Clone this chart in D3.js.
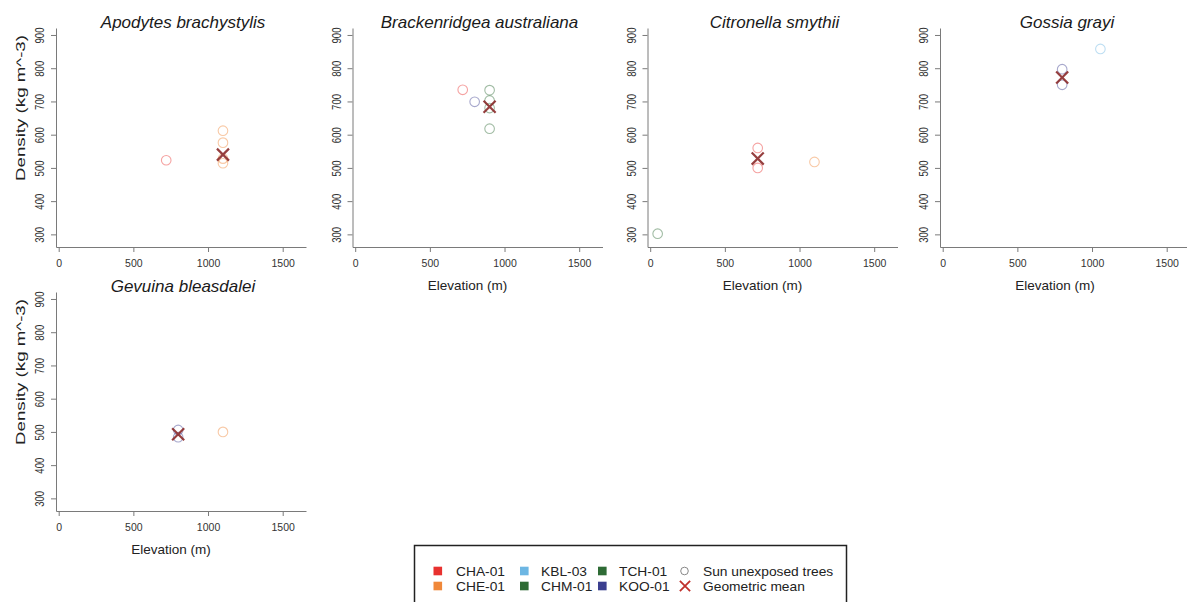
<!DOCTYPE html>
<html>
<head>
<meta charset="utf-8">
<script src="https://cdn.jsdelivr.net/npm/d3@7"></script>
<style>
  html, body { margin: 0; padding: 0; background: #fff; }
  svg { display: block; }
</style>
</head>
<body>
<svg id="chart" width="1187" height="602"></svg>
<script>
// ---------------- DATA ----------------
const speciesNames = ["Apodytes brachystylis", "Brackenridgea australiana", "Citronella smythii", "Gossia grayi", "Gevuina bleasdalei"];
const sites = ["CHA-01", "CHE-01", "KBL-03", "CHM-01", "TCH-01", "KOO-01"];
const siteColors = ["#e8312f", "#f0883a", "#6db6e3", "#2e6b35", "#2e6b35", "#3b3f8f"];

// [site, elevation (m), density (kg m^-3)]
const apodytesPoints = [["CHA-01", 720, 523], ["CHE-01", 1100, 612], ["CHE-01", 1100, 576], ["CHE-01", 1100, 528], ["CHE-01", 1100, 514]];
const brackenridgeaPoints = [["CHA-01", 720, 735], ["KOO-01", 800, 699], ["CHM-01", 900, 734], ["CHM-01", 900, 703], ["CHM-01", 900, 680], ["CHM-01", 900, 618]];
const citronellaPoints = [["TCH-01", 50, 302], ["CHA-01", 720, 560], ["CHA-01", 720, 500], ["CHE-01", 1100, 518]];
const gossiaPoints = [["KOO-01", 800, 797], ["KOO-01", 800, 750], ["KBL-03", 1056, 858]];
const gevuinaPoints = [["KOO-01", 800, 506], ["KOO-01", 800, 484], ["CHE-01", 1100, 500]];
const speciesPoints = [apodytesPoints, brackenridgeaPoints, citronellaPoints, gossiaPoints, gevuinaPoints];

const meanElevation = [1100, 900, 720, 800, 800];
const meanDensity = [540, 684, 528, 772, 493];

const xTicks = [0, 500, 1000, 1500];
const yTicks = [300, 400, 500, 600, 700, 800, 900];
const xTitle = "Elevation (m)";
const yTitle = "Density (kg m^-3)";
const legendSymbolLabels = ["Sun unexposed trees", "Geometric mean"];

// ---------------- LAYOUT ----------------
const svg = d3.select("#chart");
const FONT = "'Liberation Sans', Arial, Helvetica, sans-serif";
const colX = [56, 352.5, 647.5, 940];
const rowY = [247, 511];
const panelPos = [[0, 0], [1, 0], [2, 0], [3, 0], [0, 1]];
const plotW = 250, plotH = 219;
const color = d3.scaleOrdinal().domain(sites).range(siteColors);
const xSym = d3.symbol().type(d3.symbolX).size(96);

speciesNames.forEach((name, i) => {
  const [c, r] = panelPos[i];
  const x0 = colX[c], yb = rowY[r];
  const x = d3.scaleLinear().domain([-18, 1656]).range([x0, x0 + plotW]);
  const y = d3.scaleLinear().domain([262, 921]).range([yb, yb - plotH]);
  const g = svg.append("g");

  // x axis
  const gx = g.append("g").attr("transform", `translate(0,${yb})`)
    .call(d3.axisBottom(x).tickValues(xTicks).tickFormat(d3.format("d")).tickSize(5).tickSizeOuter(0));
  gx.select(".domain").attr("stroke", "#7a7a7a");
  gx.selectAll(".tick line").attr("stroke", "#7a7a7a");
  gx.selectAll(".tick text").attr("y", 20).attr("dy", null)
    .attr("font-family", FONT).attr("font-size", 10.5).attr("fill", "#333");

  // y axis
  const gy = g.append("g").attr("transform", `translate(${x0},0)`)
    .call(d3.axisLeft(y).tickValues(yTicks).tickFormat(d3.format("d")).tickSize(5).tickSizeOuter(0));
  gy.select(".domain").attr("stroke", "#7a7a7a");
  gy.selectAll(".tick line").attr("stroke", "#7a7a7a");
  gy.selectAll(".tick text")
    .attr("x", null).attr("dy", null)
    .attr("transform", "translate(-12,0) rotate(-90)")
    .attr("text-anchor", "middle")
    .attr("font-family", FONT).attr("font-size", 12).attr("fill", "#333")
    .attr("textLength", 16).attr("lengthAdjust", "spacingAndGlyphs");

  // title
  g.append("text").attr("x", x0 + 127).attr("y", yb - 219)
    .attr("text-anchor", "middle").attr("font-family", FONT)
    .attr("font-style", "italic").attr("font-size", 17).attr("fill", "#1a1a1a")
    .text(name);

  // x title (bottom panels of each column)
  if (!(c === 0 && r === 0)) {
    g.append("text").attr("x", x0 + 115).attr("y", yb + 43)
      .attr("text-anchor", "middle").attr("font-family", FONT)
      .attr("font-size", 13.5).attr("fill", "#222").text(xTitle);
  }
  // y title (first column)
  if (c === 0) {
    g.append("text")
      .attr("transform", `translate(${x0 - 31},${yb - 139}) rotate(-90)`)
      .attr("text-anchor", "middle").attr("font-family", FONT)
      .attr("font-size", 13).attr("fill", "#222")
      .attr("textLength", 146).attr("lengthAdjust", "spacingAndGlyphs")
      .text(yTitle);
  }

  // points
  g.selectAll("circle.pt").data(speciesPoints[i]).join("circle")
    .attr("class", "pt")
    .attr("cx", d => x(d[1])).attr("cy", d => y(d[2])).attr("r", 4.8)
    .attr("fill", "none").attr("stroke", d => color(d[0]))
    .attr("stroke-opacity", 0.45).attr("stroke-width", 1.1);

  // geometric mean
  g.append("path").attr("d", xSym)
    .attr("transform", `translate(${x(meanElevation[i])},${y(meanDensity[i])})`)
    .attr("fill", "none").attr("stroke", "#8b2a2a").attr("stroke-opacity", 0.9)
    .attr("stroke-width", 2.2);
});

// ---------------- LEGEND ----------------
const LFONT = "'Liberation Sans', Arial, sans-serif";
const LSIZE = 13;
const lg = svg.append("g");
lg.append("rect").attr("x", 414.5).attr("y", 545.5).attr("width", 432).attr("height", 70)
  .attr("fill", "#fff").attr("stroke", "#222").attr("stroke-width", 1.5);
const legendOrder = ["CHA-01", "CHE-01", "KBL-03", "CHM-01", "TCH-01", "KOO-01"];
const sqX = [433.5, 520, 598];
const txX = [456, 541, 619];
const rowMid = [571, 586];
function legendText(xp, yp, label) {
  const t = lg.append("text").attr("x", xp).attr("y", yp)
    .attr("font-family", LFONT).attr("font-size", LSIZE).attr("fill", "#222").text(label);
  const w = t.node().getComputedTextLength();
  t.attr("textLength", w * 1.06).attr("lengthAdjust", "spacingAndGlyphs");
}
legendOrder.forEach((s, k) => {
  const col = Math.floor(k / 2), row = k % 2;
  lg.append("rect").attr("x", sqX[col]).attr("y", rowMid[row] - 4.3).attr("width", 8.6).attr("height", 8.6)
    .attr("fill", color(s));
  legendText(txX[col], rowMid[row] + 4.5, s);
});
lg.append("circle").attr("cx", 684.5).attr("cy", rowMid[0]).attr("r", 3.8)
  .attr("fill", "none").attr("stroke", "#888").attr("stroke-width", 1);
legendText(703, rowMid[0] + 4.5, legendSymbolLabels[0]);
lg.append("path").attr("d", d3.symbol().type(d3.symbolX).size(70))
  .attr("transform", `translate(685,${rowMid[1]})`)
  .attr("fill", "none").attr("stroke", "#c0302b").attr("stroke-width", 1.8);
legendText(703, rowMid[1] + 4.5, legendSymbolLabels[1]);
</script>
</body>
</html>
